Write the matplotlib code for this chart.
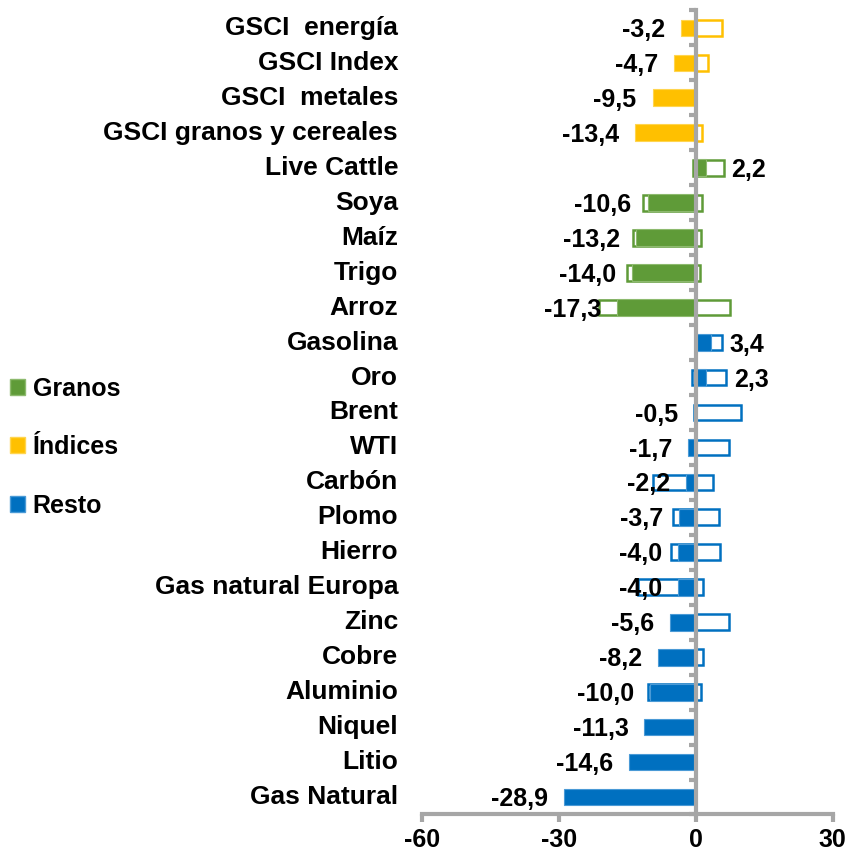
import matplotlib.pyplot as plt
from matplotlib.patches import Patch
from matplotlib.transforms import blended_transform_factory

plt.rcParams['font.family'] = ['Liberation Sans', 'DejaVu Sans']
plt.rcParams['font.weight'] = 'bold'

# --- data (top to bottom) ---
categories = ["GSCI  energía", "GSCI Index", "GSCI  metales", "GSCI granos y cereales",
              "Live Cattle", "Soya", "Maíz", "Trigo", "Arroz",
              "Gasolina", "Oro", "Brent", "WTI", "Carbón", "Plomo", "Hierro",
              "Gas natural Europa", "Zinc", "Cobre", "Aluminio", "Niquel", "Litio",
              "Gas Natural"]
groups = ["Índices"] * 4 + ["Granos"] * 5 + ["Resto"] * 14
values = [-3.2, -4.7, -9.5, -13.4,
          2.2, -10.6, -13.2, -14.0, -17.3,
          3.4, 2.3, -0.5, -1.7, -2.2, -3.7, -4.0,
          -4.0, -5.6, -8.2, -10.0, -11.3, -14.6, -28.9]
# outlined (hollow) bars: lower and upper ends
hollow_lo = [0, 0, 0, 0,
             -0.7, -11.6, -13.9, -15.0, -21.2,
             0, -0.9, -0.4, 0, -9.3, -5.0, -5.5,
             -12.8, 0, 0, -10.4, 0, 0, 0]
hollow_hi = [5.7, 2.6, 0, 1.3,
             6.1, 1.3, 1.2, 1.0, 7.5,
             5.7, 6.6, 10.0, 7.2, 3.7, 5.1, 5.3,
             1.6, 7.2, 1.5, 1.2, 0, 0, 0]

colors = {"Granos": "#5F9B38", "Índices": "#FFC000", "Resto": "#0070C0"}
edge_light = {"Granos": "#8DBA6E", "Índices": "#FFD54F", "Resto": "#4A9AD6"}
axis_grey = "#A6A6A6"

fig = plt.figure(figsize=(8.51, 8.58), dpi=100)
ax = fig.add_axes([0.4962, 0.0507, 0.4823, 0.9371])

n = len(categories)
ypos = list(range(n))
bar_h = 0.48

# hollow bars first
for y, lo, hi, g in zip(ypos, hollow_lo, hollow_hi, groups):
    if hi - lo > 0:
        ax.barh(y, hi - lo, left=lo, height=bar_h - 0.03, color='white',
                edgecolor=colors[g], linewidth=1.8, zorder=2)

# filled bars
for y, v, g in zip(ypos, values, groups):
    ax.barh(y, v, height=bar_h, color=colors[g], edgecolor=edge_light[g],
            linewidth=0.8, zorder=3)

# value labels
for y, v, hi in zip(ypos, values, hollow_hi):
    txt = f"{v:.1f}".replace('.', ',')
    if v < 0:
        ax.annotate(txt, (v, y), xytext=(-11.5, -1.5), textcoords='offset points',
                    ha='right', va='center', fontsize=18, fontweight='bold', zorder=5)
    else:
        ax.annotate(txt, (max(v, hi), y), xytext=(5.5, -1.5), textcoords='offset points',
                    ha='left', va='center', fontsize=18, fontweight='bold', zorder=5)

# category labels
trans = blended_transform_factory(ax.transAxes, ax.transData)
for y, c in zip(ypos, categories):
    ax.text(-0.059, y, c, transform=trans, ha='right', va='center',
            fontsize=19, fontweight='bold')

ax.set_xlim(-60, 30)
ax.set_ylim(n - 0.5, -0.5)
ax.set_xticks([-60, -30, 0, 30])
ax.set_xticklabels(["-60", "-30", "0", "30"], fontsize=18, fontweight='bold')
ax.set_yticks([i - 0.5 for i in range(n + 1)])
ax.tick_params(axis='y', labelleft=False, direction='out', length=5, width=3,
               color=axis_grey)
ax.tick_params(axis='x', direction='out', length=6, width=3, color=axis_grey, pad=4)

for s in ['top', 'right']:
    ax.spines[s].set_visible(False)
ax.spines['left'].set_position(('data', 0))
ax.spines['left'].set_color(axis_grey)
ax.spines['left'].set_linewidth(3)
ax.spines['left'].set_zorder(4)
ax.spines['bottom'].set_color(axis_grey)
ax.spines['bottom'].set_linewidth(3)

# legend
handles = [Patch(facecolor=colors[g], edgecolor=edge_light[g], label=g)
           for g in ["Granos", "Índices", "Resto"]]
fig.legend(handles=handles, loc='center left', bbox_to_anchor=(10 / 851, 0.479),
           frameon=False, borderpad=0, borderaxespad=0, handlelength=0.6,
           handleheight=0.6, handletextpad=0.3, labelspacing=1.38,
           prop={'size': 18, 'weight': 'bold'})

fig.savefig("out.png", dpi=100)
